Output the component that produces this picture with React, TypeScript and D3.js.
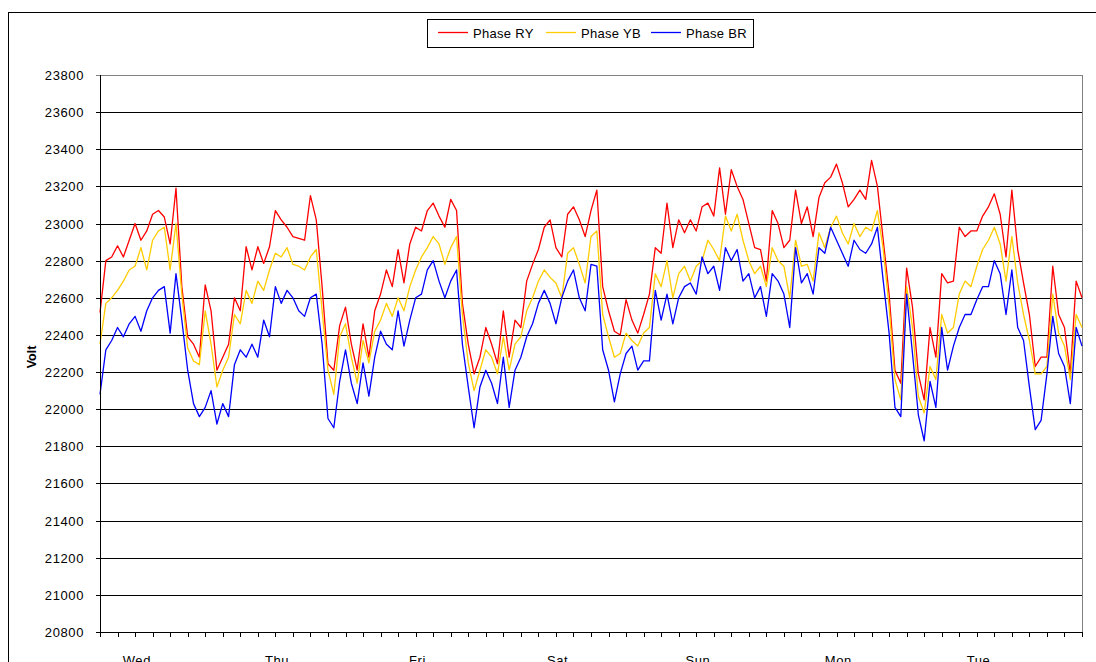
import React from "react";
import * as d3 from "d3";

const dayLabels = ["Wed", "Thu", "Fri", "Sat", "Sun", "Mon", "Tue"];
const yTicks = [20800, 21000, 21200, 21400, 21600, 21800, 22000, 22200, 22400, 22600, 22800, 23000, 23200, 23400, 23600, 23800];

// hourly readings, Wed 00:00 .. Wed 00:00 (169 points)
const phaseRY = [
  22520, 22800, 22820, 22880, 22820, 22910, 23000, 22910, 22960, 23050, 23070, 23035, 22890, 23190, 22660, 22390, 22350, 22280, 22670, 22530, 22210, 22280, 22350, 22600,
  22530, 22875, 22750, 22875, 22785, 22875, 23070, 23020, 22980, 22930, 22920, 22910, 23150, 23020, 22660, 22245, 22210, 22450, 22550, 22350, 22210, 22460, 22280, 22530,
  22620, 22750, 22660, 22860, 22680, 22890, 22980, 22960, 23070, 23110, 23040, 22980, 23130, 23070, 22570, 22350, 22190, 22280, 22440, 22350, 22245, 22530, 22280, 22480,
  22440, 22690, 22780, 22860, 22980, 23020, 22870, 22820, 23050, 23090, 23020, 22930, 23070, 23180, 22660, 22530, 22420, 22400, 22590, 22480, 22410, 22510, 22620, 22870,
  22840, 23110, 22870, 23020, 22950, 23020, 22960, 23090, 23110, 23040, 23300, 23050, 23290, 23200, 23130, 23000, 22870, 22860, 22690, 23070, 23000, 22870, 22910, 23180,
  23000, 23090, 22930, 23140, 23220, 23250, 23320, 23220, 23090, 23130, 23180, 23130, 23340, 23200, 22910, 22620, 22210, 22140, 22760, 22550, 22190, 22050, 22440, 22280,
  22730, 22680, 22690, 22980, 22930, 22960, 22960, 23040, 23090, 23160, 23050, 22820, 23180, 22860, 22680, 22510, 22230, 22280, 22280, 22770, 22510, 22440, 22190, 22690,
  22600,
];

const phaseYB = [
  22350, 22570, 22600, 22640, 22690, 22750, 22770, 22870, 22750, 22910, 22960, 22980, 22750, 23000, 22620, 22330, 22260, 22240, 22530, 22350, 22120, 22210, 22280, 22510,
  22460, 22640, 22570, 22690, 22640, 22750, 22840, 22820, 22870, 22780, 22770, 22750, 22820, 22860, 22530, 22210, 22080, 22390, 22460, 22280, 22140, 22370, 22250, 22420,
  22480, 22570, 22500, 22600, 22530, 22660, 22750, 22820, 22870, 22930, 22890, 22780, 22870, 22930, 22510, 22250, 22100, 22210, 22320, 22280, 22190, 22390, 22210, 22350,
  22390, 22530, 22600, 22690, 22750, 22710, 22680, 22600, 22840, 22870, 22780, 22680, 22930, 22960, 22510, 22390, 22280, 22300, 22410, 22370, 22340, 22410, 22440, 22730,
  22660, 22800, 22600, 22730, 22770, 22690, 22770, 22800, 22910, 22860, 22800, 23040, 22960, 23050, 22910, 22800, 22730, 22770, 22660, 22870, 22800, 22770, 22600, 22910,
  22770, 22780, 22690, 22950, 22870, 22980, 23040, 22950, 22890, 23000, 22930, 22980, 22960, 23070, 22860, 22550, 22160, 22050, 22660, 22440, 22070, 21980, 22230, 22160,
  22510, 22410, 22440, 22620, 22690, 22660, 22770, 22860, 22910, 22980, 22890, 22690, 22930, 22680, 22510, 22370, 22190, 22190, 22230, 22620, 22410, 22340, 22160, 22510,
  22440,
];

const phaseBR = [
  22080, 22320, 22370, 22440, 22390, 22460, 22500, 22420, 22530, 22600, 22640, 22660, 22410, 22730, 22480, 22210, 22030, 21960, 22010, 22100, 21920, 22030, 21960, 22240,
  22320, 22280, 22350, 22280, 22480, 22390, 22660, 22570, 22640, 22600, 22530, 22500, 22600, 22620, 22350, 21950, 21900, 22150, 22320, 22140, 22030, 22250, 22070, 22280,
  22420, 22350, 22320, 22530, 22340, 22480, 22600, 22620, 22750, 22800, 22690, 22600, 22690, 22750, 22350, 22120, 21900, 22120, 22210, 22140, 22030, 22280, 22010, 22210,
  22280, 22390, 22460, 22570, 22640, 22570, 22460, 22600, 22690, 22750, 22600, 22530, 22780, 22770, 22320, 22210, 22040, 22190, 22300, 22340, 22210, 22260, 22260, 22640,
  22480, 22620, 22460, 22600, 22660, 22680, 22620, 22820, 22730, 22770, 22640, 22870, 22800, 22860, 22690, 22730, 22600, 22660, 22500, 22730, 22690, 22620, 22440, 22870,
  22680, 22730, 22620, 22870, 22840, 22980, 22910, 22840, 22770, 22910, 22860, 22840, 22890, 22980, 22690, 22410, 22010, 21960, 22620, 22300, 21970, 21830, 22150, 22010,
  22440, 22210, 22340, 22440, 22510, 22510, 22590, 22660, 22660, 22800, 22730, 22510, 22750, 22440, 22370, 22120, 21890, 21940, 22190, 22500, 22300, 22230, 22030, 22440,
  22340,
];

const seriesNames = ["Phase RY", "Phase YB", "Phase BR"];
const seriesColors = ["#FF0000", "#FFCC00", "#0000FF"];

export default function App() {
  const W = 1096;
  const H = 662;
  const left = 100;
  const right = 1082;
  const top = 75;
  const bottom = 632;
  const hours = phaseRY.length - 1;

  const x = d3.scaleLinear().domain([0, hours]).range([left, right]);
  const y = d3.scaleLinear().domain([20800, 23800]).range([bottom, top]);
  const line = d3
    .line<number>()
    .x((_, i) => x(i))
    .y((v) => y(v))
    .curve(d3.curveLinear);

  const allSeries = [phaseRY, phaseYB, phaseBR];
  const xTicks = d3.range(0, hours + 1, 3);
  const font = "'Liberation Sans', Arial, sans-serif";

  const legendItems = [
    { lx: 438, tx: 473 },
    { lx: 546, tx: 581 },
    { lx: 651, tx: 686 },
  ];

  return (
    <svg
      width={W}
      height={H}
      style={{ position: "absolute", left: 0, top: 0, background: "#fff" }}
      fontFamily={font}
    >
      <rect x={0} y={0} width={W} height={H} fill="#fff" />
      {/* outer chart frame */}
      <rect x={8.5} y={12.5} width={1200} height={800} fill="none" stroke="#000" strokeWidth={1} />

      {/* gridlines */}
      {yTicks.map((t) => (
        <line
          key={"g" + t}
          x1={left - 4}
          x2={right}
          y1={Math.round(y(t)) + 0.5}
          y2={Math.round(y(t)) + 0.5}
          stroke={t === 23800 ? "#808080" : "#000"}
          strokeWidth={1}
        />
      ))}
      {/* right border of plot */}
      <line x1={right + 0.5} x2={right + 0.5} y1={Math.round(y(23800))} y2={bottom} stroke="#808080" />

      {/* y labels */}
      {yTicks.map((t) => (
        <text
          key={"l" + t}
          x={84}
          y={Math.round(y(t)) + 5}
          textAnchor="end"
          fontSize={13}
          letterSpacing={0.6}
          fill="#000"
        >
          {t}
        </text>
      ))}

      {/* y axis title */}
      <text
        transform={`translate(36,357) rotate(-90)`}
        textAnchor="middle"
        fontSize={12.5}
        fontWeight="bold"
        fill="#000"
      >
        Volt
      </text>

      {/* series */}
      {allSeries.map((s, i) => (
        <path
          key={"s" + i}
          d={line(s) || ""}
          fill="none"
          stroke={seriesColors[i]}
          strokeWidth={1.3}
          strokeLinejoin="round"
        />
      ))}

      {/* axes */}
      <line x1={left + 0.5} x2={left + 0.5} y1={Math.round(y(23800))} y2={bottom + 0.5} stroke="#000" />
      <line x1={left} x2={right + 1} y1={bottom + 0.5} y2={bottom + 0.5} stroke="#000" />
      {xTicks.map((t) => (
        <line
          key={"xt" + t}
          x1={Math.round(x(t)) + 0.5}
          x2={Math.round(x(t)) + 0.5}
          y1={bottom}
          y2={bottom + 5}
          stroke="#000"
        />
      ))}
      {dayLabels.map((d, i) => (
        <text
          key={d}
          x={x(i * 24 + 6.3)}
          y={665}
          textAnchor="middle"
          fontSize={13}
          letterSpacing={0.6}
          fill="#000"
        >
          {d}
        </text>
      ))}

      {/* legend */}
      <rect x={427.5} y={19.5} width={326} height={28} fill="#fff" stroke="#000" strokeWidth={1} />
      {seriesNames.map((n, i) => (
        <g key={n}>
          <line
            x1={legendItems[i].lx}
            x2={legendItems[i].lx + 30}
            y1={32.5}
            y2={32.5}
            stroke={seriesColors[i]}
            strokeWidth={1.3}
          />
          <text x={legendItems[i].tx} y={38} fontSize={13} letterSpacing={0.3} fill="#000">
            {n}
          </text>
        </g>
      ))}
    </svg>
  );
}
